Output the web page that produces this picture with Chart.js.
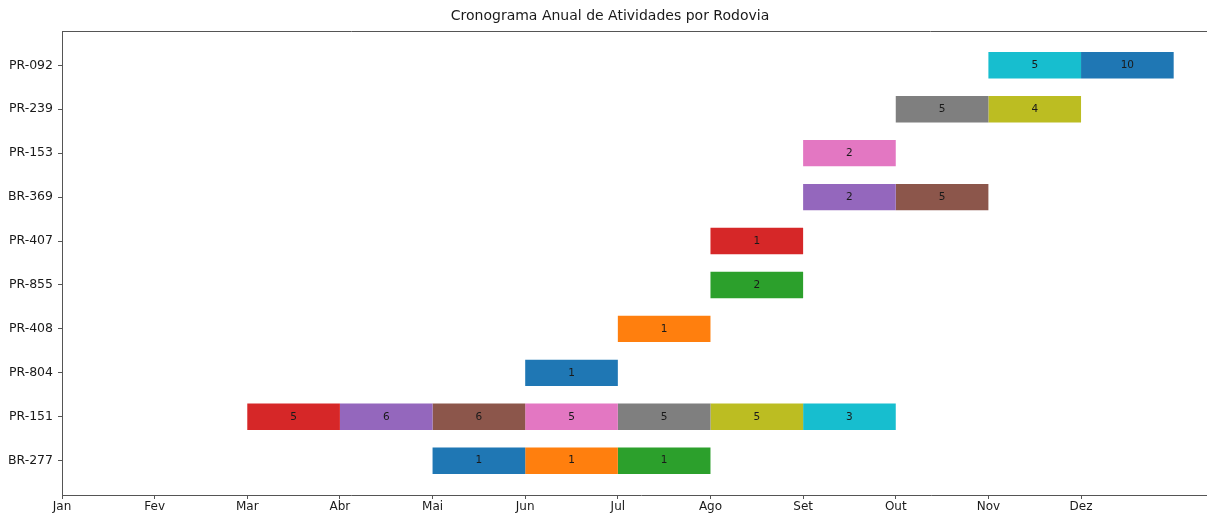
<!DOCTYPE html>
<html>
<head>
<meta charset="utf-8">
<script src="https://cdn.jsdelivr.net/npm/chart.js@4.4.0/dist/chart.umd.min.js"></script>
<style>
  html, body { margin: 0; padding: 0; background: #fff; overflow: hidden; }
  #wrap { width: 1240px; height: 516px; position: relative; }
</style>
</head>
<body>
<div id="wrap"><canvas id="cronograma"></canvas></div>
<script>
// Rodovias, de baixo para cima no eixo Y
const rodovias = ['BR-277', 'PR-151', 'PR-804', 'PR-408', 'PR-855', 'PR-407', 'BR-369', 'PR-153', 'PR-239', 'PR-092'];
const meses = ['Jan', 'Fev', 'Mar', 'Abr', 'Mai', 'Jun', 'Jul', 'Ago', 'Set', 'Out', 'Nov', 'Dez'];

// Cada atividade ocupa um mês inteiro de uma rodovia
const atvRodovia = ['BR-277', 'BR-277', 'BR-277',
    'PR-151', 'PR-151', 'PR-151', 'PR-151', 'PR-151', 'PR-151', 'PR-151',
    'PR-804', 'PR-408', 'PR-855', 'PR-407',
    'BR-369', 'BR-369', 'PR-153', 'PR-239', 'PR-239', 'PR-092', 'PR-092'];
const atvMes = ['Mai', 'Jun', 'Jul',
    'Mar', 'Abr', 'Mai', 'Jun', 'Jul', 'Ago', 'Set',
    'Jun', 'Jul', 'Ago', 'Ago',
    'Set', 'Out', 'Set', 'Out', 'Nov', 'Nov', 'Dez'];
const atvQtd = [1, 1, 1,
    5, 6, 6, 5, 5, 5, 3,
    1, 1, 2, 1,
    2, 5, 2, 5, 4, 5, 10];

const paleta = ['#1f77b4', '#ff7f0e', '#2ca02c', '#d62728', '#9467bd',
    '#8c564b', '#e377c2', '#7f7f7f', '#bcbd22', '#17becf'];

const corEixo = '#555555';
const fonte = 'DejaVu Sans';

// Um dataset por atividade (barra flutuante de um mês)
const datasets = atvQtd.map((qtd, i) => {
    const inicio = meses.indexOf(atvMes[i]);
    return {
        label: atvRodovia[i] + ' ' + atvMes[i],
        data: [{ x: [inicio, inicio + 1], y: rodovias.indexOf(atvRodovia[i]) }],
        qtd: qtd,
        backgroundColor: paleta[i % paleta.length],
        borderWidth: 0,
        grouped: false,
        barPercentage: 0.6,
        categoryPercentage: 1.0
    };
});

// Escreve a quantidade no meio de cada barra
const rotulosBarras = {
    id: 'rotulosBarras',
    afterDatasetsDraw(chart) {
        const ctx = chart.ctx;
        ctx.save();
        ctx.font = '10.5px "' + fonte + '"';
        ctx.fillStyle = '#1a1a1a';
        ctx.textAlign = 'center';
        ctx.textBaseline = 'middle';
        chart.data.datasets.forEach((ds, i) => {
            chart.getDatasetMeta(i).data.forEach(bar => {
                ctx.fillText(String(ds.qtd), (bar.x + bar.base) / 2, bar.y);
            });
        });
        ctx.restore();
    }
};

// Moldura superior/direita da área do gráfico
const moldura = {
    id: 'moldura',
    afterDraw(chart) {
        const a = chart.chartArea;
        const ctx = chart.ctx;
        ctx.save();
        ctx.strokeStyle = corEixo;
        ctx.lineWidth = 1;
        ctx.beginPath();
        ctx.moveTo(a.left, a.top + 0.5);
        ctx.lineTo(a.right, a.top + 0.5);
        ctx.lineTo(a.right, a.bottom);
        ctx.stroke();
        ctx.restore();
    }
};

new Chart(document.getElementById('cronograma'), {
    type: 'bar',
    data: { datasets },
    options: {
        indexAxis: 'y',
        responsive: true,
        maintainAspectRatio: false,
        animation: false,
        layout: { padding: { left: 0, right: 20, top: 0, bottom: 0 } },
        plugins: {
            legend: { display: false },
            tooltip: { enabled: false },
            title: {
                display: true,
                text: 'Cronograma Anual de Atividades por Rodovia',
                color: '#1a1a1a',
                font: { family: fonte, size: 14, weight: 'normal' },
                padding: { top: 8, bottom: 6.2 }
            }
        },
        scales: {
            x: {
                type: 'linear',
                min: 0,
                max: 12.5,
                offset: false,
                afterBuildTicks: scale => { scale.ticks = meses.map((m, i) => ({ value: i })); },
                afterFit: scale => { scale.height = 21; },
                ticks: {
                    callback: v => meses[v],
                    color: '#1a1a1a',
                    font: { family: fonte, size: 12 },
                    padding: 1,
                    maxRotation: 0,
                    autoSkip: false
                },
                grid: { offset: false, drawOnChartArea: false, drawTicks: true, tickLength: 4, color: corEixo },
                border: { display: true, color: corEixo, width: 1 }
            },
            y: {
                type: 'linear',
                min: -0.78,
                max: 9.78,
                offset: false,
                afterBuildTicks: scale => { scale.ticks = rodovias.map((r, i) => ({ value: i })); },
                afterFit: scale => { scale.width = 62; },
                ticks: {
                    callback: v => rodovias[v],
                    color: '#1a1a1a',
                    font: { family: fonte, size: 12.5 },
                    padding: 5,
                    autoSkip: false
                },
                grid: { offset: false, drawOnChartArea: false, drawTicks: true, tickLength: 4, color: corEixo },
                border: { display: true, color: corEixo, width: 1 }
            }
        }
    },
    plugins: [rotulosBarras, moldura]
});
</script>
</body>
</html>
